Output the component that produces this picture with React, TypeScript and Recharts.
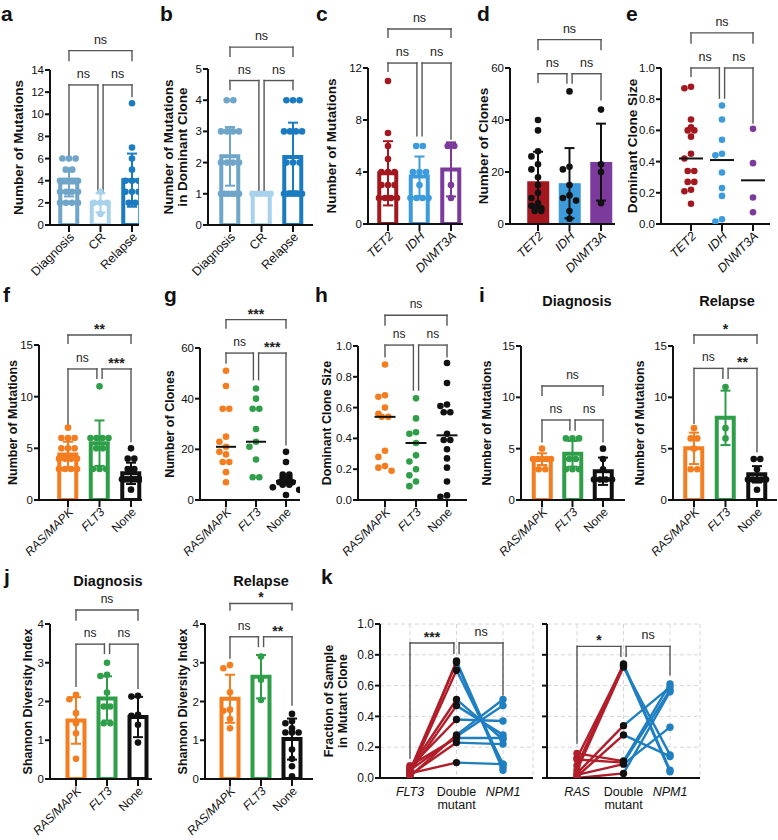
import React from 'react';
import {
  ComposedChart, Bar, Cell, Scatter, ErrorBar, Line, XAxis, YAxis, ReferenceLine, CartesianGrid,
} from 'recharts';

const FONT = '"Liberation Sans", Arial, Helvetica, sans-serif';
const NARROW = '"Liberation Sans Narrow", "Arial Narrow", "Liberation Sans", Arial, sans-serif';
const INK = '#111111';
const BRACKET = '#555555';

// categories / tick labels
const stageCats = ['Diagnosis', 'CR', 'Relapse'];
const geneCats = ['TET2', 'IDH', 'DNMT3A'];
const driverCats = ['RAS/MAPK', 'FLT3', 'None'];
const kFlt3Cats = ['FLT3', 'Double mutant', 'NPM1'];
const kRasCats = ['RAS', 'Double mutant', 'NPM1'];
const italicNames = ['TET2', 'IDH', 'DNMT3A', 'RAS/MAPK', 'FLT3', 'NPM1', 'RAS'];

const ticks14 = [0, 2, 4, 6, 8, 10, 12, 14];
const ticks5 = [0, 1, 2, 3, 4, 5];
const ticks12 = [0, 4, 8, 12];
const ticks60 = [0, 20, 40, 60];
const ticks15 = [0, 5, 10, 15];
const ticks4 = [0, 1, 2, 3, 4];
const ticksFrac = [0, 0.2, 0.4, 0.6, 0.8, 1.0];

// colours
const stageColors = ['#6fa5c8', '#a8d2ec', '#1b7bc0'];
const geneColors = ['#a3181f', '#3b9bdb', '#7b3a9c'];
const driverColors = ['#f47d20', '#2e9e48', '#111111'];
const kRed = '#b01e2a';
const kBlue = '#1f7fc0';

// a: mutations per stage
const aMean = [3.85, 2.0, 4.05];
const aSd = [1.27, 0.87, 2.4];
const aDiagnosis = [6, 6, 6, 5, 5, 4, 4, 4, 4, 4, 4, 4, 3, 3, 3, 3, 2, 2, 2, 2];
const aCR = [3, 2, 2, 2, 1];
const aRelapse = [11, 7, 6, 5, 4, 4, 4, 3, 3, 3, 2, 2];

// b: mutations in dominant clone
const bMean = [2.2, 1.0, 2.18];
const bSd = [0.94, 0, 1.1];
const bDiagnosis = [4, 4, 3, 3, 3, 3, 2, 2, 2, 2, 1, 1, 1, 1, 1, 1];
const bCR = [1, 1, 1, 1, 1];
const bRelapse = [4, 4, 4, 3, 3, 3, 3, 2, 2, 2, 1, 1, 1, 1, 1, 1];

// c: mutations by gene
const cMean = [3.9, 3.65, 4.2];
const cSd = [2.47, 1.54, 2.08];
const cTET2 = [11, 7, 6, 5, 4, 4, 4, 3, 3, 3, 2, 2, 2, 2];
const cIDH = [6, 6, 4, 4, 4, 3, 2, 2, 2, 2];
const cDNMT3A = [6, 6, 3, 2];

// d: clones by gene
const dMean = [16.4, 15.7, 23.8];
const dSd = [11.4, 13.5, 14.8];
const dTET2 = [40, 36, 28, 26, 23, 21, 18, 15, 12, 10, 8, 7, 6, 6, 5, 5];
const dIDH = [51, 22, 21, 15, 11, 10, 9, 5, 2];
const dDNMT3A = [44, 23, 20, 8];

// e: dominant clone size by gene
const eTET2 = [0.88, 0.87, 0.67, 0.62, 0.6, 0.6, 0.56, 0.45, 0.42, 0.34, 0.34, 0.27, 0.27, 0.22, 0.21, 0.13];
const eIDH = [0.76, 0.67, 0.54, 0.45, 0.44, 0.33, 0.23, 0.18, 0.03, 0.015];
const eDNMT3A = [0.61, 0.39, 0.17, 0.075];
const eMedian = [0.42, 0.41, 0.28];

// f: mutations by driver
const fMean = [4.4, 5.5, 2.58];
const fSd = [1.24, 2.2, 1.03];
const fRas = [7, 6, 6, 6, 5, 5, 5, 4, 4, 4, 4, 3, 3, 3, 3];
const fFlt3 = [11, 6, 6, 6, 6, 5, 5, 3, 3, 3];
const fNone = [5, 4, 4, 3, 3, 2, 2, 2, 2, 2, 2, 2, 2, 1];

// g: clones by driver
const gRas = [51, 45, 36, 36, 25, 23, 21, 19, 18, 15, 15, 11, 7];
const gFlt3 = [44, 40, 36, 36, 28, 23, 21, 16, 9, 9];
const gNone = [19, 15, 10, 10, 9, 9, 8, 8, 7, 7, 7, 6, 6, 5, 4, 2];
const gMedian = [21, 23, 7.5];

// h: dominant clone size by driver
const hRas = [0.88, 0.68, 0.67, 0.6, 0.56, 0.54, 0.54, 0.32, 0.28, 0.22, 0.21, 0.19];
const hFlt3 = [0.66, 0.53, 0.44, 0.43, 0.37, 0.29, 0.25, 0.2, 0.16, 0.12, 0.09];
const hNone = [0.89, 0.76, 0.62, 0.61, 0.57, 0.57, 0.43, 0.39, 0.39, 0.33, 0.27, 0.21, 0.12, 0.03, 0.02];
const hMedian = [0.54, 0.37, 0.42];

// i: mutations by driver, diagnosis / relapse
const iDxMean = [3.98, 4.5, 2.8];
const iDxSd = [0.57, 1.25, 1.33];
const iDxRas = [5, 4, 4, 4, 4, 4, 3, 3];
const iDxFlt3 = [6, 6, 6, 4, 4, 3, 3, 3];
const iDxNone = [5, 4, 3, 2, 2, 2, 2];
const iRlMean = [5.03, 8.0, 2.5];
const iRlSd = [1.53, 2.65, 0.8];
const iRlRas = [7, 6, 6, 5, 3, 3];
const iRlFlt3 = [11, 7, 6];
const iRlNone = [4, 4, 3, 2, 2, 2, 2, 2, 1];

// j: Shannon diversity, diagnosis / relapse
const jDxMean = [1.51, 2.08, 1.6];
const jDxSd = [0.6, 0.57, 0.52];
const jDxRas = [2.17, 2.06, 1.7, 1.44, 1.18, 0.52];
const jDxFlt3 = [3.0, 2.69, 2.66, 2.23, 1.87, 1.87, 1.44, 1.44];
const jDxNone = [2.15, 2.13, 1.66, 1.63, 1.4, 0.94];
const jRlMean = [2.07, 2.64, 1.03];
const jRlSd = [0.62, 0.56, 0.53];
const jRlRas = [2.94, 2.86, 2.24, 1.79, 1.76, 1.55, 1.31];
const jRlFlt3 = [3.16, 2.56, 2.04];
const jRlNone = [1.68, 1.49, 1.44, 1.31, 1.2, 1.2, 1.2, 0.76, 0.52, 0.33, 0.07];

// k: paired fractions (single mutant, double mutant, NPM1)
const kFlt3 = [0.02, 0.05, 0.03, 0.06, 0.04, 0.07, 0.01, 0.05, 0.08, 0.02, 0.03];
const kFlt3Double = [0.76, 0.75, 0.7, 0.51, 0.47, 0.38, 0.28, 0.27, 0.26, 0.23, 0.1];
const kFlt3Npm1 = [0.07, 0.05, 0.09, 0.25, 0.28, 0.37, 0.51, 0.47, 0.26, 0.22, 0.09];
const kRas = [0.08, 0.13, 0.05, 0.03, 0.01, 0.16, 0.12, 0.02, 0.0];
const kRasDouble = [0.74, 0.73, 0.72, 0.34, 0.28, 0.11, 0.1, 0.09, 0.03];
const kRasNpm1 = [0.05, 0.04, 0.15, 0.59, 0.14, 0.61, 0.57, 0.33, 0.56];

// significance brackets: [from, to, top, left leg end, right leg end, label]
type Bracket = [number, number, number, number, number, string];
const aBrackets: Bracket[] = [[0, 2, 15.75, 14.85, 14.85, 'ns'], [0, 1, 12.65, 6.3, 3.0, 'ns'], [1, 2, 12.65, 3.0, 11.6, 'ns']];
const bBrackets: Bracket[] = [[0, 2, 5.7, 5.41, 5.41, 'ns'], [0, 1, 4.63, 4.34, 1.07, 'ns'], [1, 2, 4.63, 1.07, 4.34, 'ns']];
const cBrackets: Bracket[] = [[0, 2, 15.0, 14.36, 14.36, 'ns'], [0, 1, 12.38, 11.74, 6.78, 'ns'], [1, 2, 12.38, 6.78, 6.53, 'ns']];
const dBrackets: Bracket[] = [[0, 2, 70.9, 67.1, 67.1, 'ns'], [0, 1, 57.8, 54.5, 54.2, 'ns'], [1, 2, 57.8, 54.2, 47.8, 'ns']];
const eBrackets: Bracket[] = [[0, 2, 1.225, 1.16, 1.16, 'ns'], [0, 1, 1.0, 0.946, 0.807, 'ns'], [1, 2, 1.0, 0.807, 0.647, 'ns']];
const fBrackets: Bracket[] = [[0, 2, 15.97, 15.16, 15.16, '**'], [0, 1, 12.68, 7.26, 11.77, 'ns'], [1, 2, 12.68, 11.77, 5.65, '***']];
const gBrackets: Bracket[] = [[0, 2, 71.2, 67.9, 67.9, '***'], [0, 1, 58.0, 54.1, 47.5, 'ns'], [1, 2, 58.0, 47.5, 21.8, '***']];
const hBrackets: Bracket[] = [[0, 2, 1.2, 1.136, 1.136, 'ns'], [0, 1, 1.006, 0.93, 0.714, 'ns'], [1, 2, 1.006, 0.714, 0.93, 'ns']];
const iDxBrackets: Bracket[] = [[0, 2, 11.1, 10.2, 10.2, 'ns'], [0, 1, 7.79, 5.68, 6.82, 'ns'], [1, 2, 7.79, 6.82, 5.68, 'ns']];
const iRlBrackets: Bracket[] = [[0, 2, 16.07, 15.26, 15.26, '*'], [0, 1, 12.82, 7.47, 11.85, 'ns'], [1, 2, 12.82, 11.85, 4.7, '**']];
const jDxBrackets: Bracket[] = [[0, 2, 4.36, 4.1, 4.1, 'ns'], [0, 1, 3.48, 2.39, 3.24, 'ns'], [1, 2, 3.48, 3.24, 2.34, 'ns']];
const jRlBrackets: Bracket[] = [[0, 2, 4.53, 4.36, 4.36, '*'], [0, 1, 3.67, 3.12, 3.42, 'ns'], [1, 2, 3.67, 3.42, 1.91, '**']];
const kFlt3Brackets: Bracket[] = [[0, 1, 0.877, 0.13, 0.81, '***'], [1, 2, 0.877, 0.81, 0.54, 'ns']];
const kRasBrackets: Bracket[] = [[0, 1, 0.855, 0.227, 0.79, '*'], [1, 2, 0.855, 0.79, 0.67, 'ns']];

type Frame = { L: number; R: number; T: number; B: number; c0: number; c2: number };

type PanelDef = {
  f: Frame;
  yMax: number;
  yTicks: number[];
  dec?: boolean;
  cats: string[];
  colors: string[];
  dotColors?: string[];
  errColor?: string;
  bar?: 'outline' | 'fill';
  mean?: number[];
  sd?: number[];
  median?: number[];
  medW?: number;
  pts: number[][];
  brackets: Bracket[];
  title: string[];
  dist: number[];
  tsize: number;
  fsize: number;
};

const PAD_L = 70;
const PAD_T = 85;
const PAD_R = 12;
const PAD_B = 75;
const Y_W = 34;
const X_H = 40;
const Y_TICK_FONT = 11.5;

function xDomainOf(f: Frame): [number, number] {
  const u = (f.c2 - f.c0) / 2;
  return [(f.L - f.c0) / u, (f.R - f.c0) / u];
}

// horizontal spread of dots so they don't sit on top of each other
function swarm(vals: number[], pxY: number, maxW: number, D = 6.6) {
  const sorted = [...vals].sort((a, b) => b - a);
  const placed: { y: number; dx: number }[] = [];
  let k = 0;
  while (k < sorted.length) {
    const v = sorted[k];
    let n = 0;
    while (k + n < sorted.length && sorted[k + n] === v) n++;
    if (n > 1) {
      const step = Math.min(D, maxW / (n - 1));
      for (let j = 0; j < n; j++) placed.push({ y: v, dx: (j - (n - 1) / 2) * step });
    } else {
      const py = v * pxY;
      const cands = [0, -D, D, -2 * D, 2 * D].filter((c) => Math.abs(c) <= maxW / 2 + 0.5);
      let best = 0;
      let bestGap = -1;
      for (const c of cands) {
        let gap = Infinity;
        for (const q of placed) gap = Math.min(gap, Math.hypot(q.dx - c, q.y * pxY - py));
        if (gap >= D) { best = c; bestGap = gap; break; }
        if (gap > bestGap) { bestGap = gap; best = c; }
      }
      placed.push({ y: v, dx: best });
    }
    k += n;
  }
  return placed;
}

function YTitle(props: any) {
  const { viewBox, lines, dist, size } = props;
  const vb = viewBox || { x: 0, y: 0, width: 0, height: 0 };
  const ax = vb.x + vb.width;
  const cy = vb.y + vb.height / 2;
  return (
    <g>
      {lines.map((s: string, i: number) => {
        const x = ax - dist[i];
        return (
          <text key={i} x={x} y={cy} transform={`rotate(-90 ${x} ${cy})`} textAnchor="middle"
            dominantBaseline="central" fontFamily={FONT} fontWeight="bold" fontSize={size} fill={INK}>
            {s}
          </text>
        );
      })}
    </g>
  );
}

function CatTick(props: any) {
  const { x, y, payload, cats, size, flat } = props;
  const name: string = cats[Math.round(payload.value)] ?? '';
  const style = italicNames.includes(name) ? 'italic' : 'normal';
  if (flat) {
    const parts = name.split(' ');
    return (
      <text x={x} y={y + 10} textAnchor="middle" fontFamily={FONT} fontSize={size} fontStyle={style} fill={INK}>
        {parts.map((s, i) => (
          <tspan key={i} x={x} dy={i === 0 ? 0 : size * 1.05}>{s}</tspan>
        ))}
      </text>
    );
  }
  const ax = x + 3;
  const ay = y + 1;
  return (
    <text x={ax} y={ay} transform={`rotate(-45 ${ax} ${ay})`} textAnchor="end" dominantBaseline="central"
      fontFamily={FONT} fontSize={size} fontStyle={style} fill={INK}>
      {name}
    </text>
  );
}

function bracketLines(list: Bracket[], u: number, size: number) {
  const d = 2.6 / u;
  const out: React.ReactNode[] = [];
  list.forEach(([a, b, top, yl, yr, txt], k) => {
    const x1 = a === 1 ? a + d : a;
    const x2 = b === 1 ? b - d : b;
    const star = txt.includes('*');
    const common = { stroke: BRACKET, strokeWidth: 1.4, ifOverflow: 'visible' as const, strokeLinecap: 'square' as const };
    out.push(<ReferenceLine key={`${k}l`} segment={[{ x: x1, y: yl }, { x: x1, y: top }]} {...common} />);
    out.push(
      <ReferenceLine key={`${k}t`} segment={[{ x: x1, y: top }, { x: x2, y: top }]} {...common}
        label={{
          value: txt, position: 'top', offset: star ? 1 : 7, fill: '#222',
          fontSize: star ? 14 : size, fontWeight: star ? 'bold' : 'normal', fontFamily: FONT,
        }} />,
    );
    out.push(<ReferenceLine key={`${k}r`} segment={[{ x: x2, y: top }, { x: x2, y: yr }]} {...common} />);
  });
  return out;
}

const dotShape = (col: string, r: number) => (s: any) => (
  <circle cx={s.cx + (s.payload?.dx || 0)} cy={s.cy} r={r} fill={col} />
);
const blank = () => <g />;

const axisStyle = { stroke: INK, strokeWidth: 2 };

function DotPanel({ p }: { p: PanelDef }) {
  const f = p.f;
  const u = (f.c2 - f.c0) / 2;
  const pw = f.R - f.L;
  const ph = f.B - f.T;
  const pxY = ph / p.yMax;
  const barData = p.mean ? p.mean.map((m, i) => ({ x: i, mean: m, sd: p.sd ? p.sd[i] : 0 })) : [];
  const fmt = p.dec ? (v: number) => v.toFixed(1) : (v: number) => String(v);
  const dotCols = p.dotColors || p.colors;
  const maxW = p.bar ? 18 : 28;
  return (
    <div style={{ position: 'absolute', left: f.L - PAD_L, top: f.T - PAD_T }}>
      <ComposedChart width={pw + PAD_L + PAD_R} height={ph + PAD_T + PAD_B} data={barData}
        margin={{ top: PAD_T, right: PAD_R, bottom: PAD_B - X_H, left: PAD_L - Y_W }}>
        <XAxis dataKey="x" type="number" domain={xDomainOf(f)} allowDataOverflow ticks={[0, 1, 2]} interval={0}
          height={X_H} tickSize={7} axisLine={axisStyle} tickLine={axisStyle}
          tick={<CatTick cats={p.cats} size={p.fsize} />} />
        <YAxis type="number" domain={[0, p.yMax]} allowDataOverflow ticks={p.yTicks} interval={0} width={Y_W}
          tickSize={5} tickMargin={1} axisLine={axisStyle} tickLine={axisStyle}
          tick={{ fill: INK, fontSize: Y_TICK_FONT, fontFamily: FONT }} tickFormatter={fmt}
          label={<YTitle lines={p.title} dist={p.dist} size={p.tsize} />} />
        {p.mean && (
          <Bar dataKey="mean" barSize={p.bar === 'fill' ? 22 : 17} isAnimationActive={false}>
            {barData.map((_, i) => (
              <Cell key={i} fill={p.bar === 'fill' ? p.colors[i] : '#ffffff'}
                stroke={p.bar === 'fill' ? 'none' : p.colors[i]} strokeWidth={p.bar === 'fill' ? 0 : 4} />
            ))}
          </Bar>
        )}
        {p.mean && p.sd && p.mean.map((m, i) => (
          <Scatter key={`e${i}`} data={[{ x: i, y: m, sd: p.sd![i] }]} dataKey="y" shape={blank} isAnimationActive={false}>
            <ErrorBar dataKey="sd" direction="y" width={5} stroke={p.errColor || p.colors[i]} strokeWidth={2} />
          </Scatter>
        ))}
        {p.pts.map((vals, i) => (
          <Scatter key={`p${i}`} data={swarm(vals, pxY, maxW).map((q) => ({ x: i, y: q.y, dx: q.dx }))}
            dataKey="y" shape={dotShape(dotCols[i], 3.3)} isAnimationActive={false} />
        ))}
        {p.median && p.median.map((m, i) => (
          <Scatter key={`m${i}`} data={[{ x: i, y: m }]} dataKey="y" isAnimationActive={false}
            shape={(s: any) => (
              <line x1={s.cx - (p.medW || 11)} x2={s.cx + (p.medW || 11)} y1={s.cy} y2={s.cy} stroke={INK} strokeWidth={2} />
            )} />
        ))}
        {bracketLines(p.brackets, u, p.fsize)}
      </ComposedChart>
    </div>
  );
}

type KDef = {
  f: Frame; cats: string[]; first: number[]; dbl: number[]; npm1: number[];
  brackets: Bracket[]; labels: boolean; title?: string[]; dist?: number[];
};

function KPanel({ k }: { k: KDef }) {
  const f = k.f;
  const u = (f.c2 - f.c0) / 2;
  const pw = f.R - f.L;
  const ph = f.B - f.T;
  return (
    <div style={{ position: 'absolute', left: f.L - PAD_L, top: f.T - PAD_T }}>
      <ComposedChart width={pw + PAD_L + PAD_R} height={ph + PAD_T + PAD_B}
        margin={{ top: PAD_T, right: PAD_R, bottom: PAD_B - X_H, left: PAD_L - Y_W }}>
        <CartesianGrid stroke="#d6d6d6" strokeDasharray="4 3" />
        <XAxis dataKey="x" type="number" domain={xDomainOf(f)} allowDataOverflow ticks={[0, 1, 2]} interval={0}
          height={X_H} tickLine={false} axisLine={axisStyle}
          tick={<CatTick cats={k.cats} size={12.5} flat />} />
        <YAxis type="number" domain={[0, 1]} allowDataOverflow ticks={ticksFrac} interval={0} width={Y_W}
          tickSize={5} tickMargin={1} axisLine={axisStyle} tickLine={axisStyle}
          tick={{ fill: INK, fontSize: 12, fontFamily: FONT }}
          tickFormatter={k.labels ? (v: number) => v.toFixed(1) : () => ''}
          label={k.title ? <YTitle lines={k.title} dist={k.dist} size={12.5} /> : undefined} />
        {k.first.map((v, i) => (
          <Line key={`r${i}`} data={[{ x: 0, y: v }, { x: 1, y: k.dbl[i] }]} dataKey="y" stroke={kRed}
            strokeWidth={2.4} dot={false} isAnimationActive={false} />
        ))}
        {k.dbl.map((v, i) => (
          <Line key={`b${i}`} data={[{ x: 1, y: v }, { x: 2, y: k.npm1[i] }]} dataKey="y" stroke={kBlue}
            strokeWidth={2.4} dot={false} isAnimationActive={false} />
        ))}
        <Scatter data={k.first.map((v) => ({ x: 0, y: v }))} dataKey="y" shape={dotShape(kRed, 3.7)} isAnimationActive={false} />
        <Scatter data={k.npm1.map((v) => ({ x: 2, y: v }))} dataKey="y" shape={dotShape(kBlue, 3.7)} isAnimationActive={false} />
        <Scatter data={k.dbl.map((v) => ({ x: 1, y: v }))} dataKey="y" shape={dotShape(INK, 3.7)} isAnimationActive={false} />
        {bracketLines(k.brackets, u, 12.5)}
      </ComposedChart>
    </div>
  );
}

const panels: PanelDef[] = [
  { f: { L: 50, R: 139, T: 70, B: 225, c0: 69, c2: 132 }, yMax: 14, yTicks: ticks14, cats: stageCats, colors: stageColors,
    bar: 'outline', mean: aMean, sd: aSd, pts: [aDiagnosis, aCR, aRelapse], brackets: aBrackets,
    title: ['Number of Mutations'], dist: [32], tsize: 13.5, fsize: 12.5 },
  { f: { L: 208, R: 313, T: 69, B: 225, c0: 230, c2: 293 }, yMax: 5, yTicks: ticks5, cats: stageCats, colors: stageColors,
    bar: 'outline', mean: bMean, sd: bSd, pts: [bDiagnosis, bCR, bRelapse], brackets: bBrackets,
    title: ['Number of Mutations', 'in Dominant Clone'], dist: [40, 26], tsize: 13.5, fsize: 12.5 },
  { f: { L: 368, R: 463, T: 68, B: 224, c0: 388, c2: 451 }, yMax: 12, yTicks: ticks12, cats: geneCats, colors: geneColors,
    bar: 'outline', mean: cMean, sd: cSd, pts: [cTET2, cIDH, cDNMT3A], brackets: cBrackets,
    title: ['Number of Mutations'], dist: [37], tsize: 13.5, fsize: 12.5 },
  { f: { L: 510, R: 615, T: 68, B: 224, c0: 538, c2: 601 }, yMax: 60, yTicks: ticks60, cats: geneCats, colors: geneColors,
    dotColors: [INK, INK, INK], errColor: INK, bar: 'fill', mean: dMean, sd: dSd, pts: [dTET2, dIDH, dDNMT3A],
    brackets: dBrackets, title: ['Number of Clones'], dist: [27], tsize: 13.5, fsize: 12.5 },
  { f: { L: 661, R: 770, T: 68, B: 224, c0: 691, c2: 753 }, yMax: 1, yTicks: ticksFrac, dec: true, cats: geneCats,
    colors: geneColors, median: eMedian, medW: 12, pts: [eTET2, eIDH, eDNMT3A], brackets: eBrackets,
    title: ['Dominant Clone Size'], dist: [29], tsize: 13.5, fsize: 12.5 },
  { f: { L: 39, R: 142, T: 345, B: 500, c0: 68, c2: 131 }, yMax: 15, yTicks: ticks15, cats: driverCats, colors: driverColors,
    bar: 'outline', mean: fMean, sd: fSd, pts: [fRas, fFlt3, fNone], brackets: fBrackets,
    title: ['Number of Mutations'], dist: [26], tsize: 12.5, fsize: 12 },
  { f: { L: 200, R: 300, T: 348, B: 500, c0: 226, c2: 286 }, yMax: 60, yTicks: ticks60, cats: driverCats, colors: driverColors,
    median: gMedian, medW: 10, pts: [gRas, gFlt3, gNone], brackets: gBrackets,
    title: ['Number of Clones'], dist: [30], tsize: 12.5, fsize: 12 },
  { f: { L: 358, R: 467, T: 346, B: 500, c0: 385, c2: 447 }, yMax: 1, yTicks: ticksFrac, dec: true, cats: driverCats,
    colors: driverColors, median: hMedian, medW: 10.5, pts: [hRas, hFlt3, hNone], brackets: hBrackets,
    title: ['Dominant Clone Size'], dist: [31], tsize: 12.5, fsize: 12 },
  { f: { L: 521, R: 625, T: 346, B: 500, c0: 542, c2: 603 }, yMax: 15, yTicks: ticks15, cats: driverCats, colors: driverColors,
    bar: 'outline', mean: iDxMean, sd: iDxSd, pts: [iDxRas, iDxFlt3, iDxNone], brackets: iDxBrackets,
    title: ['Number of Mutations'], dist: [34], tsize: 12.5, fsize: 12 },
  { f: { L: 673, R: 777, T: 346, B: 500, c0: 694, c2: 757 }, yMax: 15, yTicks: ticks15, cats: driverCats, colors: driverColors,
    bar: 'outline', mean: iRlMean, sd: iRlSd, pts: [iRlRas, iRlFlt3, iRlNone], brackets: iRlBrackets,
    title: ['Number of Mutations'], dist: [33], tsize: 12.5, fsize: 12 },
  { f: { L: 50, R: 152, T: 624, B: 779, c0: 76, c2: 138 }, yMax: 4, yTicks: ticks4, cats: driverCats, colors: driverColors,
    bar: 'outline', mean: jDxMean, sd: jDxSd, pts: [jDxRas, jDxFlt3, jDxNone], brackets: jDxBrackets,
    title: ['Shannon Diversity Index'], dist: [22], tsize: 12.5, fsize: 12 },
  { f: { L: 205, R: 313, T: 624, B: 779, c0: 230, c2: 292 }, yMax: 4, yTicks: ticks4, cats: driverCats, colors: driverColors,
    bar: 'outline', mean: jRlMean, sd: jRlSd, pts: [jRlRas, jRlFlt3, jRlNone], brackets: jRlBrackets,
    title: ['Shannon Diversity Index'], dist: [22], tsize: 12.5, fsize: 12 },
];

const kPanels: KDef[] = [
  { f: { L: 380, R: 533, T: 624, B: 778, c0: 410, c2: 503 }, cats: kFlt3Cats, first: kFlt3, dbl: kFlt3Double,
    npm1: kFlt3Npm1, brackets: kFlt3Brackets, labels: true, title: ['Fraction of Sample', 'in Mutant Clone'], dist: [51, 37] },
  { f: { L: 547, R: 700, T: 624, B: 778, c0: 577, c2: 670 }, cats: kRasCats, first: kRas, dbl: kRasDouble,
    npm1: kRasNpm1, brackets: kRasBrackets, labels: false },
];

const letters: [string, number, number][] = [
  ['a', 1, 21], ['b', 160, 21], ['c', 316, 21], ['d', 477, 21], ['e', 626, 21],
  ['f', 3, 302], ['g', 164, 302], ['h', 315, 302], ['i', 479, 302],
  ['j', 4, 584], ['k', 321, 584],
];
const subTitles: [string, number, number][] = [
  ['Diagnosis', 577, 306], ['Relapse', 727, 306], ['Diagnosis', 108, 586], ['Relapse', 261, 586],
];

export default function App() {
  return (
    <div style={{ position: 'absolute', left: 0, top: 0, width: 778, height: 840, overflow: 'hidden', background: '#fff', fontFamily: FONT }}>
      {panels.map((p, i) => <DotPanel key={i} p={p} />)}
      {kPanels.map((k, i) => <KPanel key={`k${i}`} k={k} />)}
      <svg width={778} height={840} style={{ position: 'absolute', left: 0, top: 0, pointerEvents: 'none' }}>
        {letters.map(([t, x, y]) => (
          <text key={t} x={x} y={y} fontFamily={NARROW} fontWeight="bold" fontSize={21} fill={INK}>{t}</text>
        ))}
        {subTitles.map(([t, x, y], i) => (
          <text key={i} x={x} y={y} textAnchor="middle" fontFamily={FONT} fontWeight="bold" fontSize={14.5} fill={INK}>{t}</text>
        ))}
      </svg>
    </div>
  );
}
